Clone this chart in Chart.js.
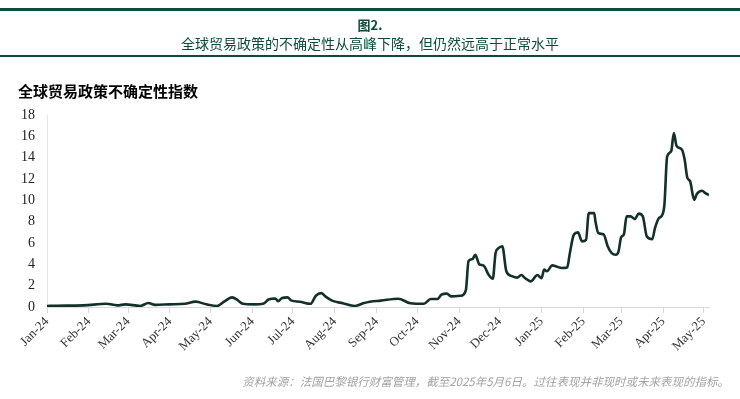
<!DOCTYPE html>
<html>
<head>
<meta charset="utf-8">
<script src="https://cdn.jsdelivr.net/npm/chart.js@4"></script>
<style>
  body { margin: 0; background: #fff; }
  #wrap { position: relative; width: 740px; height: 399px; overflow: hidden; }
  #chart { position: absolute; left: 0; top: 0; }
  .rule { position: absolute; left: 0; width: 740px; background: #0e4a3b; }
  .txt { position: absolute; white-space: nowrap; font-family: "Liberation Sans Narrow", "Noto Sans CJK SC", sans-serif; }
  #fig { top: 15px; left: 0; width: 740px; text-align: center; font-size: 13px; font-weight: bold; color: #0e4a3b; }
  #sub { top: 33px; left: 0; width: 740px; text-align: center; font-size: 14px; color: #0e4a3b; }
  #ttl { top: 80px; left: 18px; font-size: 15px; font-weight: bold; color: #000; }
  #src { top: 373px; right: 11px; font-size: 11.5px; font-style: italic; color: #a3a3a3; }
</style>
</head>
<body>
<div id="wrap">
  <canvas id="chart" width="740" height="399"></canvas>
  <div class="rule" style="top:8px;height:3px"></div>
  <div class="txt" id="fig">图2.</div>
  <div class="txt" id="sub">全球贸易政策的不确定性从高峰下降，但仍然远高于正常水平</div>
  <div class="rule" style="top:55px;height:2px"></div>
  <div class="txt" id="ttl">全球贸易政策不确定性指数</div>
  <div class="txt" id="src">资料来源：法国巴黎银行财富管理，截至2025年5月6日。过往表现并非现时或未来表现的指标。</div>
</div>
<script>
// days counted from 1 Jan 2024
const days = [0, 7, 27, 44, 52, 58, 69, 75, 80, 91, 102, 110, 118, 126, 131, 137, 141, 145,
  153, 160, 164, 169, 171, 174, 178, 181, 187, 195, 199, 203, 206, 211, 219, 228, 234, 239,
  247, 260, 269, 279, 284, 289, 292, 296, 299, 306, 310, 312, 315, 317, 320, 323, 327, 330,
  332, 334, 337, 340, 344, 348, 351, 354, 358, 363, 366, 368, 370, 374, 377, 381, 385, 387,
  390, 393, 396, 399, 401, 405, 406, 408, 412, 415, 418, 421, 423, 425, 427, 429, 432, 435,
  438, 441, 444, 448, 450, 453, 455, 457, 459, 462, 464, 466, 470, 472, 474, 476, 479, 481,
  485, 487, 490];
const values = [0.1, 0.12, 0.15, 0.3, 0.15, 0.25, 0.1, 0.37, 0.2, 0.25, 0.3, 0.5, 0.25, 0.1, 0.5, 0.9, 0.65, 0.3,
  0.25, 0.3, 0.7, 0.8, 0.55, 0.85, 0.9, 0.6, 0.5, 0.3, 1.05, 1.3, 1.0, 0.6, 0.35, 0.1, 0.35, 0.5,
  0.6, 0.78, 0.35, 0.3, 0.75, 0.75, 1.15, 1.25, 1.0, 1.05, 1.55, 4.3, 4.5, 4.9, 4.0, 3.9, 3.0, 2.65,
  5.05, 5.5, 5.7, 3.35, 2.9, 2.75, 3.0, 2.7, 2.4, 3.0, 2.7, 3.5, 3.35, 3.9, 3.8, 3.65, 3.7, 5.05,
  6.8, 7.0, 6.15, 6.3, 8.8, 8.8, 8.0, 6.95, 6.8, 5.7, 5.05, 4.9, 5.2, 6.55, 6.8, 8.5, 8.5, 8.25,
  8.75, 8.5, 6.6, 6.35, 7.4, 8.35, 8.55, 9.6, 14.1, 14.6, 16.3, 15.1, 14.75, 13.8, 12.1, 11.8, 10.05, 10.6,
  10.9, 10.7, 10.5];

const monthDays = [0, 31, 60, 91, 121, 152, 182, 213, 244, 274, 305, 335, 366, 397, 425, 456, 486];
const monthLabels = ['Jan-24', 'Feb-24', 'Mar-24', 'Apr-24', 'May-24', 'Jun-24', 'Jul-24', 'Aug-24',
  'Sep-24', 'Oct-24', 'Nov-24', 'Dec-24', 'Jan-25', 'Feb-25', 'Mar-25', 'Apr-25', 'May-25'];

const serif = '"Liberation Serif", "DejaVu Serif", serif';

new Chart(document.getElementById('chart').getContext('2d'), {
  type: 'line',
  data: {
    datasets: [{
      data: days.map((d, i) => ({ x: d, y: values[i] })),
      borderColor: '#13302a',
      borderWidth: 2.6,
      pointRadius: 0,
      tension: 0.25,
      cubicInterpolationMode: 'monotone',
    }],
  },
  options: {
    responsive: false,
    animation: false,
    devicePixelRatio: 1,
    layout: { padding: { top: 115, left: 0, right: 31, bottom: 32 } },
    plugins: { legend: { display: false }, tooltip: { enabled: false } },
    scales: {
      x: {
        type: 'linear',
        min: 0,
        max: 490,
        afterBuildTicks: scale => { scale.ticks = monthDays.map(v => ({ value: v })); },
        afterFit: scale => { scale.height = 60; },
        ticks: {
          autoSkip: false,
          maxRotation: 45,
          minRotation: 45,
          padding: 1,
          color: '#333',
          font: { family: serif, size: 13 },
          callback: (v) => monthLabels[monthDays.indexOf(v)],
        },
        grid: { display: true, drawOnChartArea: false, drawTicks: true, tickLength: 6, color: '#d9d9d9' },
        border: { display: true, color: '#d9d9d9' },
      },
      y: {
        min: 0,
        max: 18,
        afterFit: scale => { scale.width = 47; },
        ticks: { stepSize: 2, padding: 12, color: '#222', font: { family: serif, size: 14 } },
        grid: { display: true, drawOnChartArea: false, drawTicks: false, color: '#d9d9d9' },
        border: { display: true, color: '#e3e3e3' },
      },
    },
  },
});
</script>
</body>
</html>
